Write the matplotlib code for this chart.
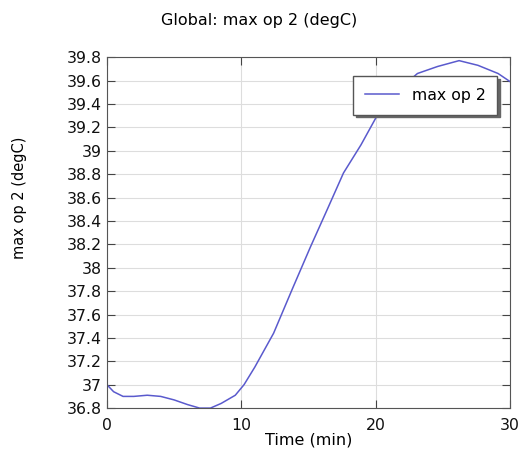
import matplotlib
matplotlib.use("Agg")
import matplotlib.pyplot as plt

# values
time_min = [0, 0.5, 1.2, 2.0, 3.0, 4.0, 5.0, 6.0, 6.9, 7.7, 8.5, 9.55, 10.2, 11.0, 12.4,
            13.8, 15.15, 16.4, 17.6, 18.9, 20.1, 21.5, 23.1, 24.6, 26.2, 27.6, 29.1, 30.0]
max_op2 = [37.0, 36.94, 36.90, 36.90, 36.91, 36.90, 36.87, 36.83, 36.80, 36.80, 36.84, 36.91,
           37.0, 37.15, 37.44, 37.82, 38.18, 38.50, 38.81, 39.05, 39.30, 39.50, 39.66, 39.72,
           39.77, 39.73, 39.66, 39.59]

y_ticks = [36.8, 37, 37.2, 37.4, 37.6, 37.8, 38, 38.2, 38.4, 38.6, 38.8, 39, 39.2, 39.4, 39.6, 39.8]
y_labels = ["36.8", "37", "37.2", "37.4", "37.6", "37.8", "38", "38.2", "38.4", "38.6",
            "38.8", "39", "39.2", "39.4", "39.6", "39.8"]
x_ticks = [0, 10, 20, 30]

fig = plt.figure(figsize=(5.19, 4.57), dpi=100)
ax = fig.add_axes([0.206, 0.107, 0.777, 0.768])

ax.plot(time_min, max_op2, color="#5a5acd", lw=1.1, label="max op 2")

ax.set_xlim(0, 30)
ax.set_ylim(36.8, 39.8)
ax.set_xticks(x_ticks)
ax.set_yticks(y_ticks)
ax.set_yticklabels(y_labels)
ax.tick_params(direction="in", length=6, width=0.8, labelsize=11.3, top=True, right=True,
               color="#444444", labelcolor="#111111")
ax.tick_params(axis="x", pad=7)
ax.grid(True, color="#dddddd", lw=0.8)
for s in ax.spines.values():
    s.set_color("#555555")

ax.set_xlabel("Time (min)", fontsize=11.5, labelpad=0)
ax.set_ylabel("max op 2 (degC)", fontsize=10.5)
ax.yaxis.set_label_coords(-0.198, 0.6)
fig.text(0.5, 0.955, "Global: max op 2 (degC)", ha="center", va="center", fontsize=11.5)

leg = ax.legend(loc="upper right", bbox_to_anchor=(0.968, 0.946), borderaxespad=0,
                fontsize=11.3, fancybox=False,
                shadow={"ox": 2, "oy": -2, "color": "#666666", "alpha": 1},
                framealpha=1, edgecolor="#555555",
                handlelength=2.2, borderpad=0.75)

fig.savefig("out.png", dpi=100)
